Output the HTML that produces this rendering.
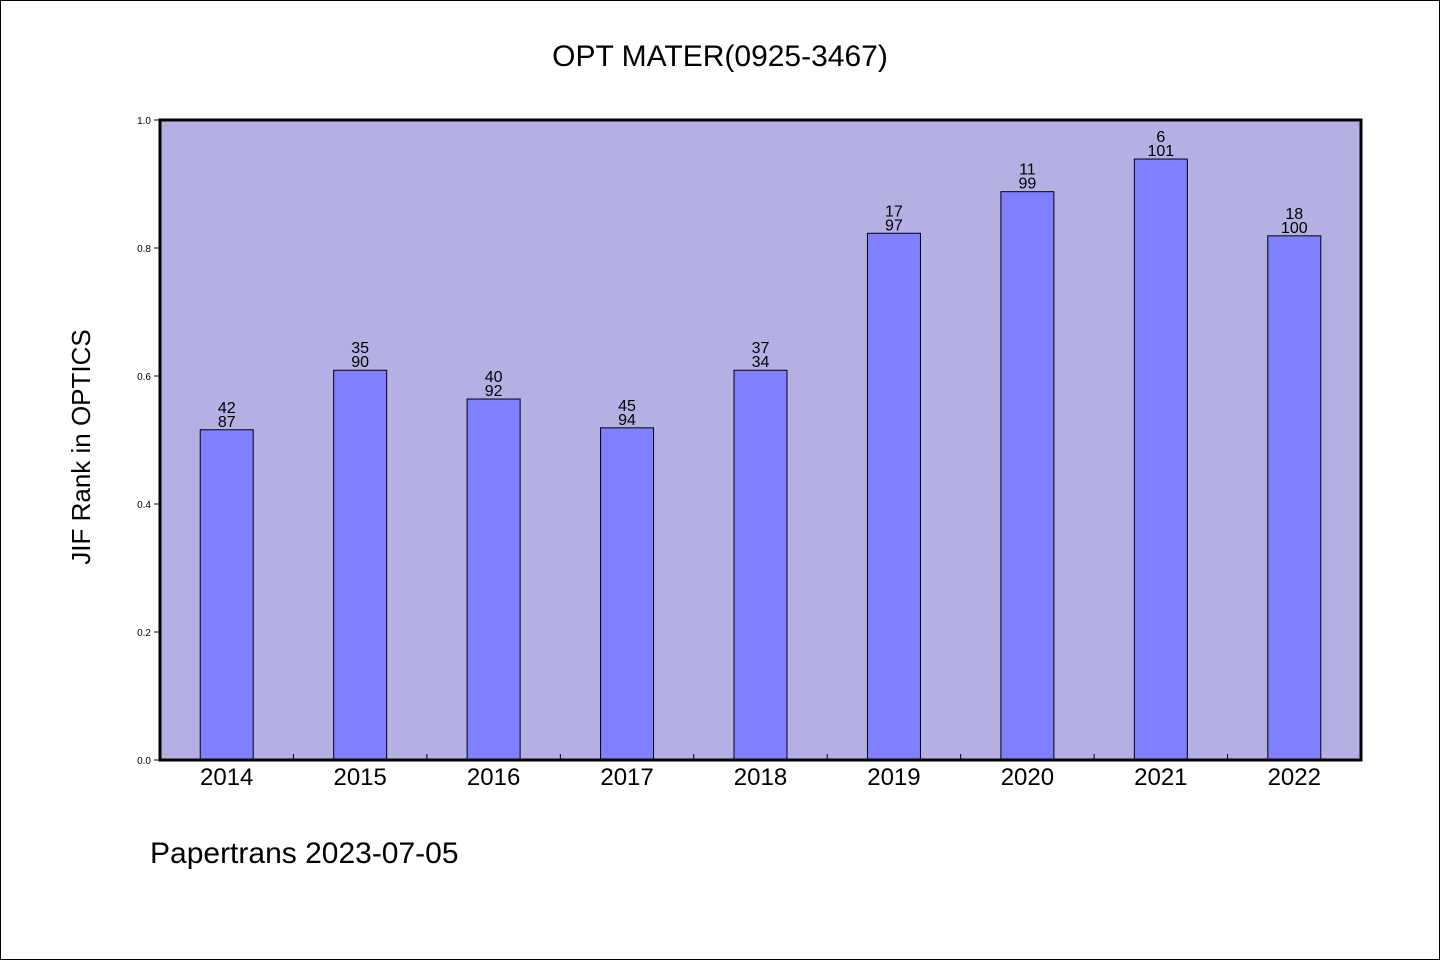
<!DOCTYPE html>
<html><head><meta charset="utf-8"><style>
body{margin:0;background:#fff}
svg text{font-family:"WenQuanYi Zen Hei","Liberation Sans",sans-serif}
</style></head><body>
<svg id="chart" width="1440" height="960" xmlns="http://www.w3.org/2000/svg">
<rect x="0.5" y="0.5" width="1439" height="959" fill="#fff" stroke="#000"/>
<text x="720" y="66" font-size="30" text-anchor="middle">OPT MATER(0925-3467)</text>
<rect x="160" y="120" width="1201" height="640" fill="#b5b0e3"/>
<g id="bars"></g>
<rect x="160" y="120" width="1201" height="640" fill="none" stroke="#000" stroke-width="3"/>
<text transform="translate(90,447) rotate(-90)" font-size="26" text-anchor="middle">JIF Rank in OPTICS</text>
<text x="150" y="863" font-size="30">Papertrans 2023-07-05</text>
</svg>
<script>
const years=["2014","2015","2016","2017","2018","2019","2020","2021","2022"];
const values=[0.516,0.609,0.564,0.519,0.609,0.823,0.888,0.939,0.819];
const ranks=["42","35","40","45","37","17","11","6","18"];
const totals=["87","90","92","94","34","97","99","101","100"];
const yTicks=[0,0.2,0.4,0.6,0.8,1.0];
const X0=160,W=1201,Y0=760,H=640;
const step=W/years.length;
const xc=i=>X0+step*(i+0.5);
const y=v=>Y0-v*H;
const NS="http://www.w3.org/2000/svg";
const g=document.getElementById('bars');
function mk(t,a,p){const e=document.createElementNS(NS,t);for(const k in a)e.setAttribute(k,a[k]);(p||g).appendChild(e);return e;}
yTicks.forEach(v=>{
  const l=mk('line',{x1:154,x2:160,y1:y(v),y2:y(v),stroke:'#000'});
  
  
  const t=mk('text',{x:151,y:y(v)+4,'font-size':10,'text-anchor':'end'});
  t.textContent=v.toFixed(1);
  
  
});
years.forEach((yr,i)=>{
  const bw=53;
  const r=mk('rect',{x:xc(i)-bw/2,y:y(values[i]),width:bw,height:Y0-y(values[i]),fill:'#8080ff',stroke:'#000','stroke-width':1});
  
  
  const t1=mk('text',{x:xc(i),y:y(values[i])-17,'font-size':16,'text-anchor':'middle'});
  t1.textContent=ranks[i];
  
  
  const t2=mk('text',{x:xc(i),y:y(values[i])-3,'font-size':16,'text-anchor':'middle'});
  t2.textContent=totals[i];
  
  
  const xl=mk('text',{x:xc(i),y:785,'font-size':24,'text-anchor':'middle'});
  xl.textContent=yr;
  
  
  if(i>0){
    const tk=mk('line',{x1:X0+step*i,x2:X0+step*i,y1:Y0,y2:Y0-6,stroke:'#000'});
    
    
  }
});
</script>
</body></html>
